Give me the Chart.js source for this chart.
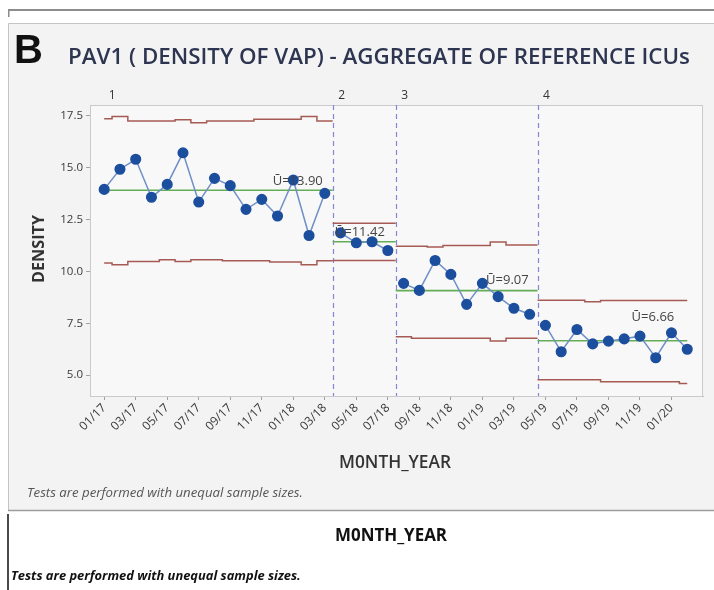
<!DOCTYPE html>
<html lang="en">
<head>
<meta charset="UTF-8">
<title>PAV1 (Density of VAP)</title>
<style>
  html, body { margin: 0; padding: 0; background: #ffffff; }
  #wrap { width: 714px; height: 590px; }
</style>
</head>
<body>
<div id="wrap"><canvas id="chart" width="714" height="590"></canvas></div>
<script src="https://cdn.jsdelivr.net/npm/chart.js"></script>
<script>
// month labels, one per point
const months = ['01/17','02/17','03/17','04/17','05/17','06/17','07/17','08/17','09/17','10/17','11/17','12/17',
                '01/18','02/18','03/18','04/18','05/18','06/18','07/18','08/18','09/18','10/18','11/18','12/18',
                '01/19','02/19','03/19','04/19','05/19','06/19','07/19','08/19','09/19','10/19','11/19','12/19',
                '01/20','02/20'];

// VAP density per month
const density = [13.94, 14.91, 15.39, 13.56, 14.18, 15.70, 13.33, 14.47, 14.12, 12.98, 13.46, 12.66, 14.39, 11.72, 13.75,
                 11.85, 11.37, 11.42, 11.00,
                 9.42, 9.08, 10.52, 9.85, 8.41, 9.42, 8.78, 8.22, 7.93,
                 7.40, 6.13, 7.20, 6.51, 6.64, 6.75, 6.88, 5.84, 7.04, 6.25];

// upper / lower control limits (unequal sample sizes)
const ucl = [17.34, 17.45, 17.23, 17.23, 17.23, 17.29, 17.15, 17.23, 17.23, 17.23, 17.31, 17.31, 17.31, 17.45, 17.23,
             12.31, 12.31, 12.31, 12.31,
             11.20, 11.20, 11.17, 11.24, 11.24, 11.24, 11.41, 11.27, 11.27,
             8.61, 8.61, 8.61, 8.53, 8.59, 8.59, 8.59, 8.59, 8.59, 8.59];
const lcl = [10.40, 10.32, 10.47, 10.47, 10.56, 10.47, 10.56, 10.56, 10.51, 10.51, 10.51, 10.45, 10.45, 10.32, 10.51,
             10.52, 10.52, 10.52, 10.52,
             6.85, 6.78, 6.78, 6.78, 6.78, 6.78, 6.65, 6.78, 6.78,
             4.78, 4.78, 4.78, 4.78, 4.69, 4.69, 4.69, 4.69, 4.69, 4.60];

// stages
const stageNames = ['1', '2', '3', '4'];
const stageStart = [0, 15, 19, 28];
const stageEnd = [14, 18, 27, 37];
const centerValues = [13.90, 11.42, 9.07, 6.66];

const yTicks = [5.0, 7.5, 10.0, 12.5, 15.0, 17.5];

const FONT = '"Open Sans", "Noto Sans", sans-serif';

function edgeX(s, side) {
    if (side === 0) return s === 0 ? stageStart[s] : stageStart[s] - 0.5;
    return s === stageStart.length - 1 ? stageEnd[s] : stageEnd[s] + 0.5;
}

function limitData(arr, s) {
    const pts = [{x: edgeX(s, 0), y: arr[stageStart[s]]}];
    for (let i = stageStart[s]; i <= stageEnd[s]; i++) pts.push({x: i, y: arr[i]});
    pts.push({x: edgeX(s, 1), y: arr[stageEnd[s]]});
    return pts;
}

const datasets = [];
stageStart.forEach((a, s) => {
    const pts = [];
    for (let i = a; i <= stageEnd[s]; i++) pts.push({x: i, y: density[i]});
    datasets.push({
        data: pts,
        borderColor: '#6f8fc6',
        borderWidth: 1.5,
        pointBackgroundColor: '#1c4e9e',
        pointBorderColor: '#1c4e9e',
        pointRadius: 4.8,
        order: 0
    });
});
stageStart.forEach((a, s) => {
    datasets.push({ data: limitData(ucl, s), stepped: 'middle', borderColor: '#a65a54', borderWidth: 1.5, pointRadius: 0, order: 2 });
    datasets.push({ data: limitData(lcl, s), stepped: 'middle', borderColor: '#a65a54', borderWidth: 1.5, pointRadius: 0, order: 2 });
    datasets.push({
        data: [{x: edgeX(s, 0), y: centerValues[s]}, {x: edgeX(s, 1), y: centerValues[s]}],
        borderColor: '#62ad55', borderWidth: 1.6, pointRadius: 0, order: 1
    });
});

function fitText(ctx, text, x, y, width, weight, style, color, align) {
    ctx.font = `${style} ${weight} 20px ${FONT}`;
    const size = 20 * width / ctx.measureText(text).width;
    ctx.font = `${style} ${weight} ${size.toFixed(2)}px ${FONT}`;
    ctx.fillStyle = color;
    ctx.textAlign = align || 'left';
    ctx.textBaseline = 'middle';
    ctx.fillText(text, x, y);
}

const decor = {
    id: 'decor',
    beforeDraw(chart) {
        const ctx = chart.ctx;
        const a = chart.chartArea;
        ctx.save();
        ctx.fillStyle = '#ffffff';
        ctx.fillRect(0, 0, 714, 590);
        // strip of the figure above
        ctx.fillStyle = '#8c8c8c';
        ctx.fillRect(8, 9, 706, 2);
        ctx.fillRect(8, 9, 1.5, 8);
        // panel
        ctx.fillStyle = '#f3f3f3';
        ctx.fillRect(8, 23, 706, 487);
        ctx.strokeStyle = '#c4c4c4';
        ctx.lineWidth = 1;
        ctx.beginPath();
        ctx.moveTo(8.5, 510); ctx.lineTo(8.5, 23.5); ctx.lineTo(714, 23.5);
        ctx.stroke();
        ctx.strokeStyle = '#9c9c9c';
        ctx.lineWidth = 1.5;
        ctx.beginPath();
        ctx.moveTo(8, 510.5); ctx.lineTo(714, 510.5);
        ctx.stroke();
        // lower strip
        ctx.fillStyle = '#4a4a4a';
        ctx.fillRect(7, 514, 2, 76);
        // plot area
        ctx.fillStyle = '#f8f8f8';
        ctx.fillRect(a.left, a.top, a.right - a.left, a.bottom - a.top);
        ctx.restore();
    },
    beforeDatasetsDraw(chart) {
        const ctx = chart.ctx;
        const a = chart.chartArea;
        const xs = chart.scales.x;
        ctx.save();
        ctx.strokeStyle = '#cacaca';
        ctx.lineWidth = 1;
        ctx.strokeRect(a.left + 0.5, a.top + 0.5, a.right - a.left - 1, a.bottom - a.top);
        ctx.strokeStyle = '#8585d6';
        ctx.lineWidth = 1.2;
        ctx.setLineDash([5, 4]);
        for (let s = 1; s < stageStart.length; s++) {
            const px = Math.round(xs.getPixelForValue(stageStart[s] - 0.5)) + 0.5;
            ctx.beginPath();
            ctx.moveTo(px, a.top);
            ctx.lineTo(px, a.bottom);
            ctx.stroke();
        }
        ctx.restore();
    },
    afterDraw(chart) {
        const ctx = chart.ctx;
        const xs = chart.scales.x;
        const ys = chart.scales.y;
        ctx.save();
        // panel letter and title
        ctx.fillStyle = '#111111';
        ctx.font = 'bold 40px "Liberation Sans", Arial, sans-serif';
        ctx.textAlign = 'left';
        ctx.textBaseline = 'alphabetic';
        ctx.fillText('B', 14, 63);
        fitText(ctx, 'PAV1 ( DENSITY OF VAP) - AGGREGATE OF REFERENCE ICUs', 68, 58, 622, '600', 'normal', '#2d3550');

        // stage numbers
        ctx.font = `12px ${FONT}`;
        ctx.fillStyle = '#333333';
        ctx.textAlign = 'center';
        ctx.textBaseline = 'middle';
        stageNames.forEach((n, s) => {
            ctx.fillText(n, xs.getPixelForValue(stageStart[s]) + (s === 0 ? 8 : 1), 96);
        });

        // centre line labels
        const dx = [-2, -3, -1, -13];
        const dy = [-9, -9, -10, -23];
        ctx.font = `13px ${FONT}`;
        ctx.fillStyle = '#444444';
        ctx.textAlign = 'right';
        centerValues.forEach((c, s) => {
            ctx.fillText('\u016A=' + c.toFixed(2), xs.getPixelForValue(stageEnd[s]) + dx[s], ys.getPixelForValue(c) + dy[s]);
        });

        // axis titles
        ctx.save();
        ctx.translate(39, 249);
        ctx.rotate(-Math.PI / 2);
        fitText(ctx, 'DENSITY', 0, 0, 68, 'bold', 'normal', '#333333', 'center');
        ctx.restore();
        fitText(ctx, 'M0NTH_YEAR', 395, 463, 112, '600', 'normal', '#333333', 'center');
        fitText(ctx, 'Tests are performed with unequal sample sizes.', 27, 493, 276, 'normal', 'italic', '#555555');

        // lower strip texts
        fitText(ctx, 'M0NTH_YEAR', 391, 536, 112, 'bold', 'normal', '#111111', 'center');
        fitText(ctx, 'Tests are performed with unequal sample sizes.', 11, 576, 290, 'bold', 'italic', '#111111');
        ctx.restore();
    }
};

new Chart(document.getElementById('chart'), {
    type: 'line',
    data: { datasets: datasets },
    plugins: [decor],
    options: {
        responsive: false,
        animation: false,
        layout: { padding: { top: 105, right: 11, left: 0, bottom: 0 } },
        plugins: { legend: { display: false }, tooltip: { enabled: false } },
        scales: {
            x: {
                type: 'linear',
                min: -0.9,
                max: 38,
                afterBuildTicks: axis => {
                    axis.ticks = months.map((m, i) => i).filter(i => i % 2 === 0).map(i => ({value: i}));
                },
                afterFit: axis => { axis.height = 194; },
                ticks: {
                    callback: v => months[v],
                    minRotation: 45,
                    maxRotation: 45,
                    autoSkip: false,
                    padding: 1,
                    color: '#3a3a3a',
                    font: { family: FONT, size: 12 }
                },
                grid: { drawOnChartArea: false, tickLength: 4, color: '#a0a0a0' },
                border: { color: '#b8b8b8' }
            },
            y: {
                min: 4,
                max: 18,
                afterBuildTicks: axis => { axis.ticks = yTicks.map(v => ({value: v})); },
                afterFit: axis => { axis.width = 90; },
                ticks: {
                    callback: v => v.toFixed(1),
                    padding: 3,
                    color: '#3a3a3a',
                    font: { family: FONT, size: 11.5 }
                },
                grid: { drawOnChartArea: false, tickLength: 4, color: '#a0a0a0' },
                border: { color: '#b8b8b8' }
            }
        }
    }
});
</script>
</body>
</html>
